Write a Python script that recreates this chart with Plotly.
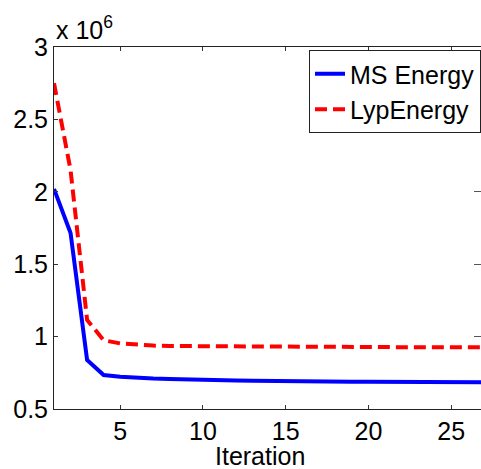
import plotly.graph_objects as go

iterations = list(range(1, 28))
ms_energy = [2.02e6, 1.715e6, 0.838e6, 0.735e6, 0.722e6, 0.714e6, 0.710e6, 0.707e6, 0.703e6, 0.700e6,
             0.699e6, 0.697e6, 0.695e6, 0.693e6, 0.692e6, 0.691e6, 0.690e6, 0.689e6, 0.689e6, 0.688e6,
             0.688e6, 0.686e6, 0.686e6, 0.686e6, 0.685e6, 0.685e6, 0.685e6]
lyp_energy = [2.75e6, 2.15e6, 1.115e6, 0.975e6, 0.953e6, 0.943e6, 0.938e6, 0.935e6, 0.934e6, 0.933e6,
              0.932e6, 0.931e6, 0.930e6, 0.930e6, 0.929e6, 0.929e6, 0.929e6, 0.928e6, 0.928e6, 0.928e6,
              0.927e6, 0.927e6, 0.927e6, 0.927e6, 0.926e6, 0.926e6, 0.926e6]
x_ticks = [5, 10, 15, 20, 25]
y_ticks = [0.5e6, 1e6, 1.5e6, 2e6, 2.5e6, 3e6]
y_tick_labels = ["0.5", "1", "1.5", "2", "2.5", "3"]

FONT = "Liberation Sans, Arial, Helvetica, sans-serif"

fig = go.Figure()
fig.add_trace(go.Scatter(x=iterations, y=ms_energy, mode="lines", name="MS Energy",
                         line=dict(color="#0000ff", width=4)))
fig.add_trace(go.Scatter(x=iterations, y=lyp_energy, mode="lines", name="LypEnergy",
                         line=dict(color="#ff0000", width=4, dash="12px,6px")))
# invisible trace for right-side mirror ticks
fig.add_trace(go.Scatter(x=[iterations[0]], y=[y_ticks[0]], yaxis="y2", mode="lines",
                         showlegend=False, hoverinfo="skip", line=dict(width=0)))

fig.update_layout(
    width=481, height=469,
    margin=dict(l=54, r=0, t=47, b=60, autoexpand=False),
    paper_bgcolor="white", plot_bgcolor="white",
    font=dict(family=FONT, size=25, color="black"),
    showlegend=True,
    legend=dict(x=1, xanchor="right", y=1 - 3 / 362, yanchor="top",
                bgcolor="white", bordercolor="#222222", borderwidth=1,
                font=dict(size=25), tracegroupgap=0, itemwidth=30),
    xaxis=dict(range=[1, 26.8], tickvals=x_ticks, ticks="inside", ticklen=4,
               tickcolor="#333333", showline=True, linecolor="#222222", linewidth=1,
               mirror="ticks", showgrid=False, zeroline=False, automargin=False,
               tickfont=dict(size=25)),
    yaxis=dict(range=[0.5e6, 3e6], tickvals=y_ticks, ticktext=y_tick_labels,
               ticks="inside", ticklen=4, tickcolor="#333333", showline=True,
               linecolor="#222222", linewidth=1, showgrid=False, zeroline=False,
               automargin=False, tickfont=dict(size=25)),
    yaxis2=dict(range=[0.5e6, 3e6], tickvals=y_ticks, overlaying="y", side="right",
                anchor="x", ticks="inside", ticklen=7, tickcolor="#555555",
                showticklabels=False, showline=False, showgrid=False, zeroline=False,
                automargin=False),
)

fig.add_annotation(text="x 10<sup>6</sup>", xref="paper", yref="paper", x=0, y=1,
                   xanchor="left", yanchor="bottom", showarrow=False, yshift=1,
                   font=dict(family=FONT, size=25, color="black"))
fig.add_annotation(text="Iteration", xref="paper", yref="paper", x=(260 - 54) / 427, y=0,
                   xanchor="center", yanchor="middle", showarrow=False, yshift=-47,
                   font=dict(family=FONT, size=25, color="black"))

fig.write_html("out.html", config={"displayModeBar": False},
               post_script="document.body.style.margin='0px';document.body.style.overflow='hidden';")
